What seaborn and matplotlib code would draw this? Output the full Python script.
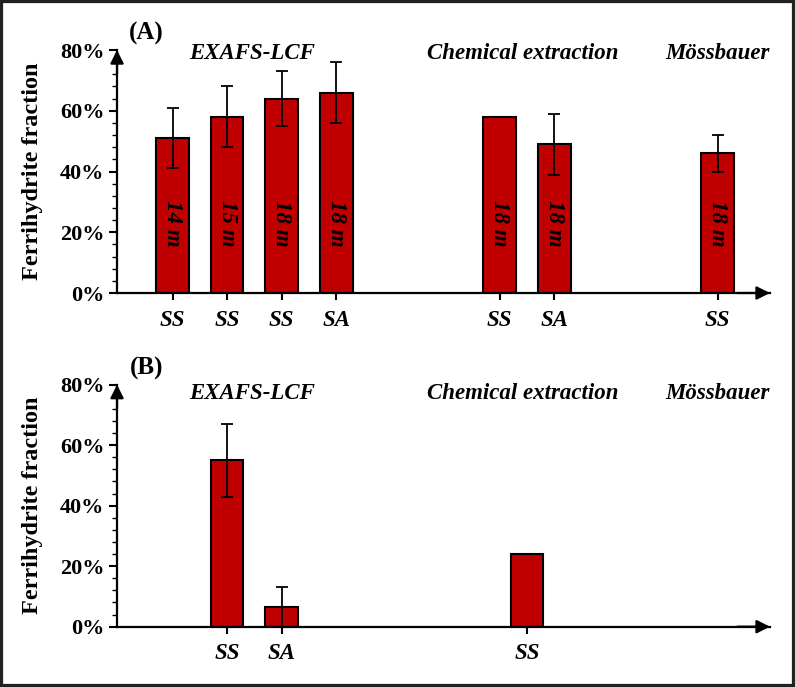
import numpy as np
import pandas as pd
import matplotlib
matplotlib.use('Agg')
import matplotlib.pyplot as plt
import seaborn as sns
from matplotlib.ticker import MultipleLocator, PercentFormatter
from matplotlib.patches import Rectangle

# ─── DATA ─────────────────────────────────────────────────────────────────────
# Panel A
A_POS     = [0, 1, 2, 3, 6, 7, 10]
A_LABELS  = ['SS', 'SS', 'SS', 'SA', 'SS', 'SA', 'SS']
A_DEPTH   = ['14 m', '15 m', '18 m', '18 m', '18 m', '18 m', '18 m']
A_VALUES  = [0.51, 0.58, 0.64, 0.66, 0.58, 0.49, 0.46]
A_ERR     = [0.10, 0.10, 0.09, 0.10, np.nan, 0.10, 0.06]

# Panel B
B_POS     = [1, 2, 6.5]
B_LABELS  = ['SS', 'SA', 'SS']
B_VALUES  = [0.55, 0.066, 0.24]
B_ERR     = [0.12, 0.066, np.nan]

METHODS     = ['EXAFS-LCF', 'Chemical extraction', 'Mössbauer']
METHOD_XPOS = [1.45, 6.42, 10.0]

BAR_COLOR = '#C00000'
SERIF = ['Liberation Serif', 'DejaVu Serif']

sns.set_style('ticks')
plt.rcParams['font.family'] = SERIF
plt.rcParams['axes.linewidth'] = 1.6
for key in ['text.color', 'axes.labelcolor', 'xtick.color', 'ytick.color', 'axes.edgecolor']:
    plt.rcParams[key] = 'black'


def draw_panel(ax, pos, labels, values, err, tag, head_y, depth=None):
    df = pd.DataFrame({'pos': pos, 'value': values})
    sns.barplot(data=df, x='pos', y='value', native_scale=True, width=0.6,
                color=BAR_COLOR, saturation=1, edgecolor='black', linewidth=1.5,
                errorbar=None, ax=ax)
    ax.errorbar(pos, values, yerr=err, fmt='none', ecolor='black',
                elinewidth=1.3, capsize=4, capthick=1.3)

    ax.set_xlim(-1.02, 10.96)
    ax.set_ylim(0, 0.8)
    ax.yaxis.set_major_locator(MultipleLocator(0.2))
    ax.yaxis.set_minor_locator(MultipleLocator(0.04))
    ax.yaxis.set_major_formatter(PercentFormatter(1.0, decimals=0))
    ax.set_xticks(pos)
    ax.set_xticklabels(labels, fontsize=16.5, fontweight='bold', fontstyle='italic')
    for t in ax.get_yticklabels():
        t.set_fontsize(16)
        t.set_fontweight('bold')
    ax.tick_params(axis='x', direction='out', length=5, width=1.5, pad=7)
    ax.tick_params(axis='y', which='major', direction='out', length=6, width=1.5, pad=3)
    ax.tick_params(axis='y', which='minor', direction='out', length=3.5, width=1.0)
    ax.set_xlabel('')
    ax.set_ylabel('Ferrihydrite fraction', fontsize=17.5, fontweight='bold', labelpad=12)
    sns.despine(ax=ax)

    # arrow heads on the axes
    head = dict(arrowstyle='-|>', color='black', lw=1.6, mutation_scale=20,
                shrinkA=0, shrinkB=0)
    ax.annotate('', xy=(0, 1.0), xycoords='axes fraction', xytext=(0, 0.9),
                arrowprops=head, annotation_clip=False)
    ax.annotate('', xy=(1.0, 0), xycoords='axes fraction', xytext=(0.95, 0),
                arrowprops=head, annotation_clip=False)

    for name, x in zip(METHODS, METHOD_XPOS):
        ax.text(x, head_y, name, ha='center', va='center', fontsize=16.5,
                fontweight='bold', fontstyle='italic')
    ax.text(-0.48, 0.855, tag, ha='center', va='center', fontsize=18,
            fontweight='bold', clip_on=False)

    if depth is not None:
        for x, d in zip(pos, depth):
            ax.text(x, 0.23, d, rotation=270, ha='center', va='center',
                    fontsize=16.5, fontweight='bold', fontstyle='italic')


fig = plt.figure(figsize=(7.95, 6.87), dpi=100)
ax_a = fig.add_axes([0.1472, 0.5735, 0.8214, 0.3537])
ax_b = fig.add_axes([0.1472, 0.0878, 0.8214, 0.3523])

draw_panel(ax_a, A_POS, A_LABELS, A_VALUES, A_ERR, '(A)', 0.787, depth=A_DEPTH)
draw_panel(ax_b, B_POS, B_LABELS, B_VALUES, B_ERR, '(B)', 0.77)

fig.patches.append(Rectangle((0, 0), 1, 1, transform=fig.transFigure,
                             fill=False, edgecolor='#222222', linewidth=4.5))

fig.savefig('out.png', dpi=100)
